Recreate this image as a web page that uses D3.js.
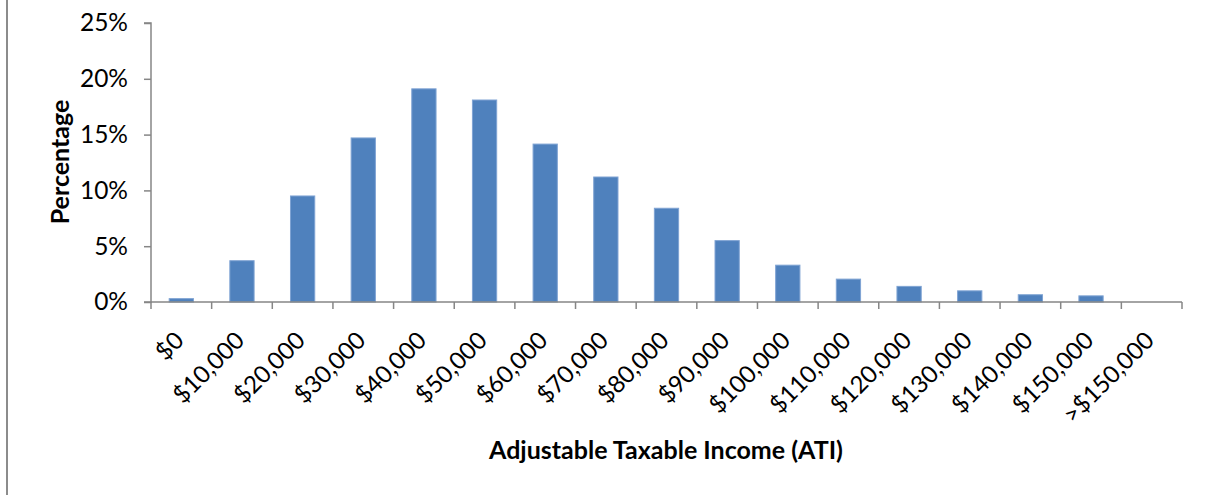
<!DOCTYPE html>
<html>
<head>
<meta charset="utf-8">
<script src="https://cdn.jsdelivr.net/npm/d3@7"></script>
<style>
  html, body { margin: 0; padding: 0; background: #fff; }
  svg { display: block; }
</style>
</head>
<body>
<svg id="chart" width="1209" height="495"></svg>
<script>
const categories = ["$0", "$10,000", "$20,000", "$30,000", "$40,000", "$50,000", "$60,000", "$70,000", "$80,000", "$90,000", "$100,000", "$110,000", "$120,000", "$130,000", "$140,000", "$150,000", ">$150,000"];
const percentages = [0.3, 3.7, 9.5, 14.7, 19.1, 18.1, 14.15, 11.2, 8.4, 5.5, 3.3, 2.05, 1.4, 1.0, 0.65, 0.55, 0];
const yTicks = [0, 5, 10, 15, 20, 25];
const yTitle = "Percentage";
const xTitle = "Adjustable Taxable Income (ATI)";

(function () {
const svg = d3.select("#chart");
const font = "Lato, 'Open Sans', sans-serif";
const axisColor = "#868686";
const tickFont = 24.5, xTickFont = 24, titleFont = 25;

const plotLeft = 151, plotRight = 1182, plotTop = 23, plotBottom = 302;

// left chart border
svg.append("line").attr("x1", 7).attr("x2", 7).attr("y1", 0).attr("y2", 495)
  .attr("stroke", "#8c8c8c").attr("stroke-width", 2);

const x = d3.scaleBand().domain(categories).range([plotLeft, plotRight]).padding(0);
const y = d3.scaleLinear().domain([0, 25]).range([plotBottom, plotTop]);

// bars
const bw = x.bandwidth() / 2.5;
svg.append("g").selectAll("rect").data(categories).join("rect")
  .attr("x", (d) => x(d) + (x.bandwidth() - bw) / 2)
  .attr("width", bw)
  .attr("y", (d, i) => y(percentages[i]))
  .attr("height", (d, i) => y(0) - y(percentages[i]))
  .attr("fill", "#4F81BD")
  .attr("stroke", "#7FA3D3")
  .attr("stroke-width", 1);

// y axis
const yAxis = d3.axisLeft(y).tickValues(yTicks).tickSize(7).tickPadding(16)
  .tickFormat((d) => d + "%");
const gy = svg.append("g").attr("transform", `translate(${plotLeft},0)`).call(yAxis);
gy.select(".domain").attr("stroke", axisColor).attr("stroke-width", 1.5).attr("d", `M-7,${plotTop}H0V${plotBottom}H-7`);
gy.selectAll(".tick line").attr("stroke", axisColor).attr("stroke-width", 1.5);
gy.selectAll(".tick text").attr("font-family", font).attr("font-size", tickFont).attr("fill", "#000");

// x axis
const gx = svg.append("g").attr("transform", `translate(0,${plotBottom})`);
gx.append("line").attr("x1", plotLeft).attr("x2", plotRight).attr("y1", 0).attr("y2", 0)
  .attr("stroke", axisColor).attr("stroke-width", 1.5);
const boundaries = categories.map((c) => x(c)).concat([plotRight]);
gx.selectAll("line.tk").data(boundaries).join("line").attr("class", "tk")
  .attr("x1", (d) => d).attr("x2", (d) => d).attr("y1", 0).attr("y2", 7)
  .attr("stroke", axisColor).attr("stroke-width", 1.5);
gx.selectAll("text").data(categories).join("text")
  .attr("transform", (d) => `translate(${x(d) + x.bandwidth() / 2 - 2},${34}) rotate(-45)`)
  .attr("text-anchor", "end")
  .attr("dy", "0.35em")
  .attr("font-family", font).attr("font-size", xTickFont).attr("fill", "#000")
  .text((d) => d);

// titles
svg.append("text")
  .attr("transform", `translate(60,162) rotate(-90)`)
  .attr("text-anchor", "middle").attr("dy", "0.35em")
  .attr("font-family", font).attr("font-size", titleFont).attr("font-weight", "bold")
  .text(yTitle);
svg.append("text")
  .attr("x", 666).attr("y", 450).attr("dy", "0.35em")
  .attr("text-anchor", "middle")
  .attr("font-family", font).attr("font-size", titleFont).attr("font-weight", "bold")
  .text(xTitle);
})();
</script>
</body>
</html>
